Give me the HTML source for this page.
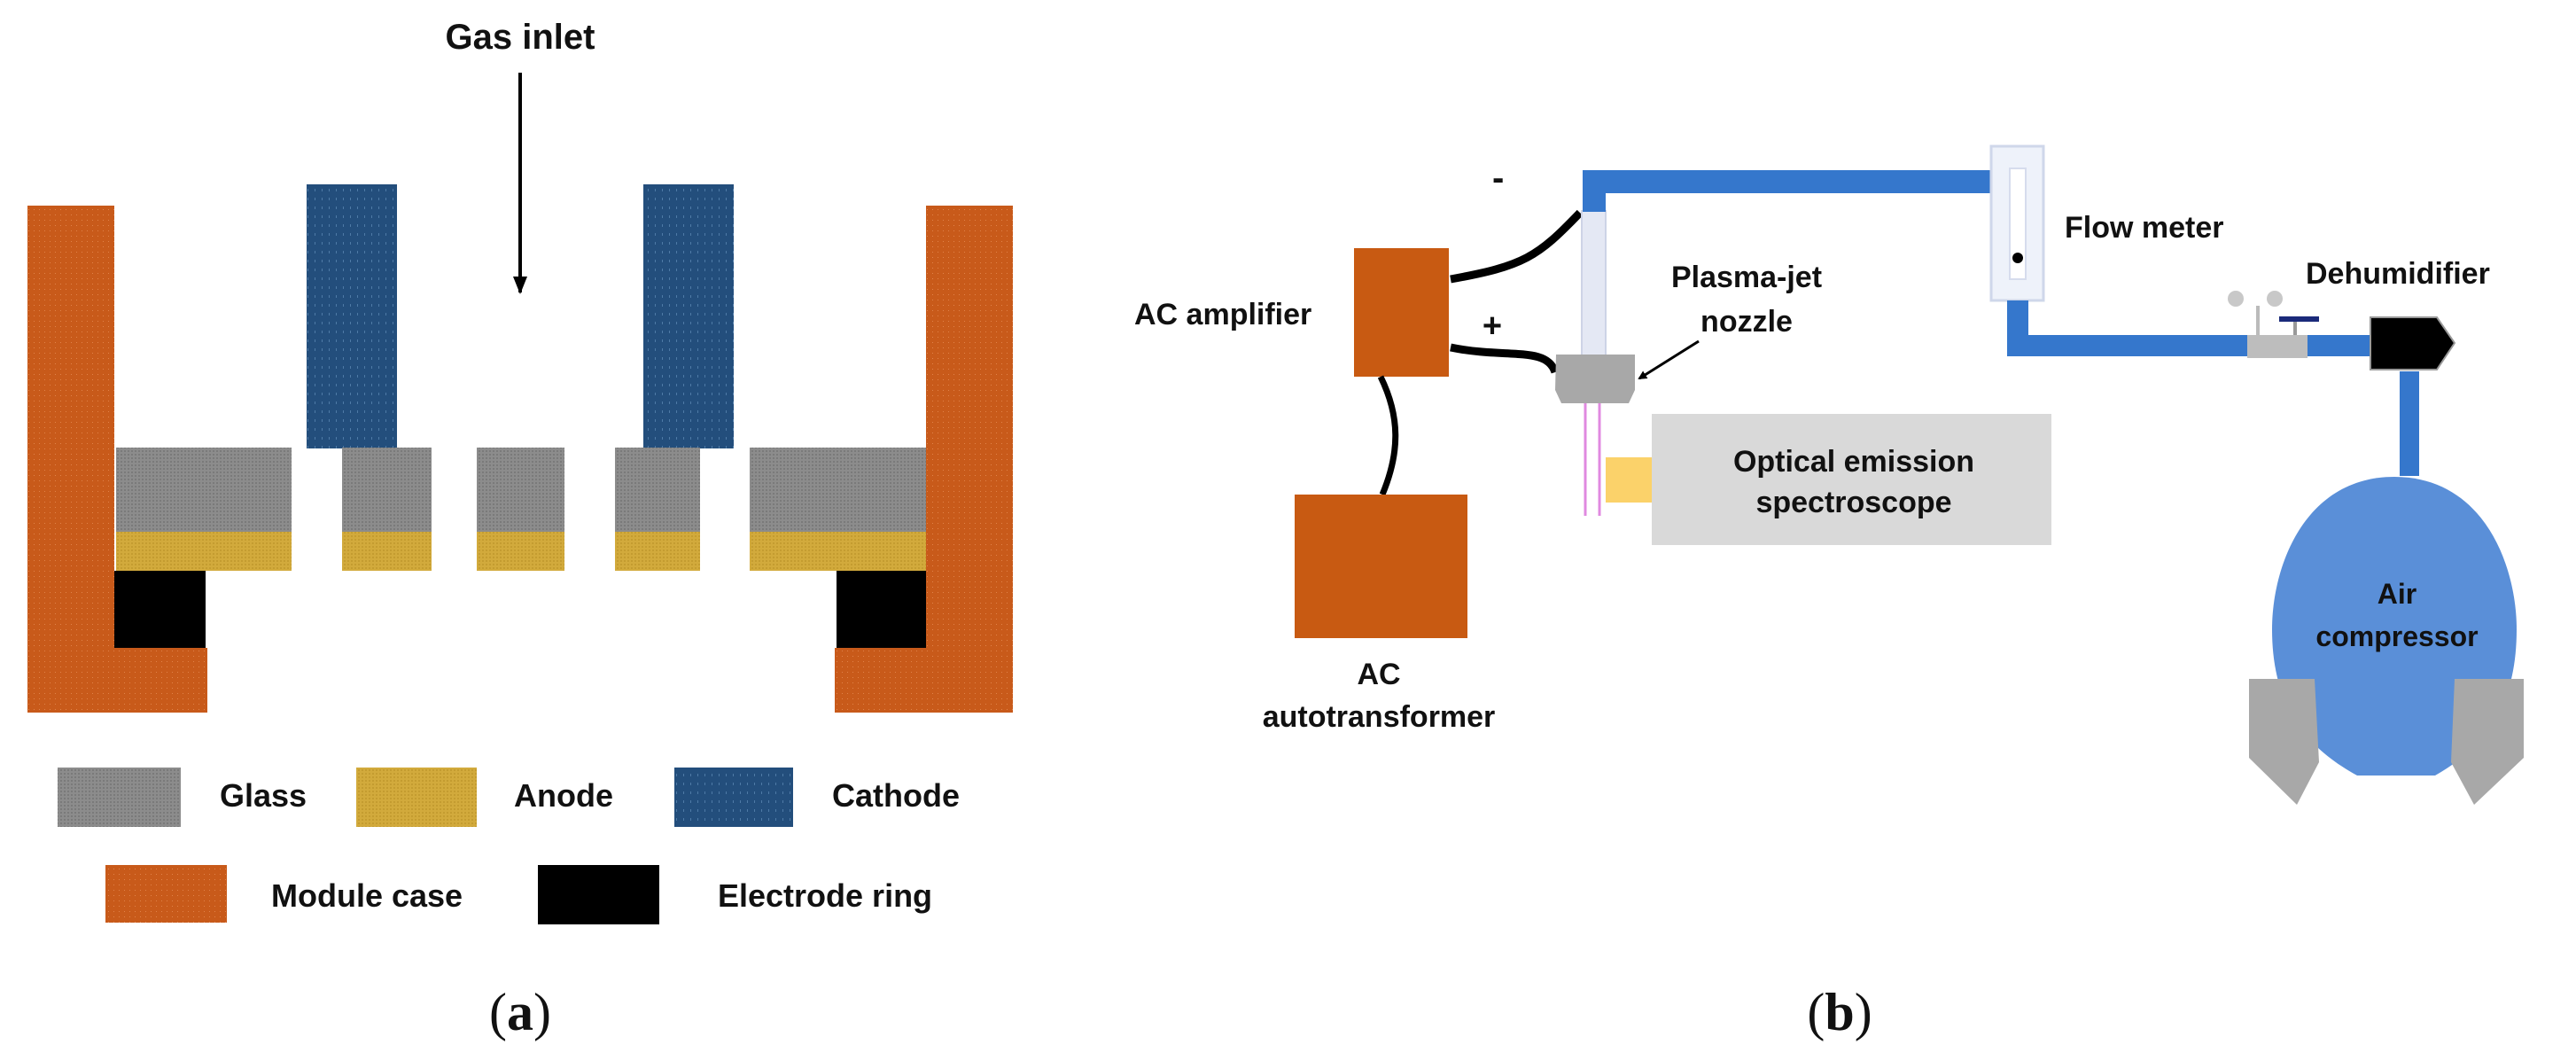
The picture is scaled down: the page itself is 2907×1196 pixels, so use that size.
<!DOCTYPE html>
<html><head><meta charset="utf-8"><style>
html,body{margin:0;padding:0;background:#fff;}
svg{display:block;}
text{font-family:"Liberation Sans",sans-serif;font-weight:bold;fill:#111;}
</style></head><body>
<svg width="2907" height="1196" viewBox="0 0 2907 1196" xmlns="http://www.w3.org/2000/svg">
<defs>
<pattern id="pg" width="4" height="4" patternUnits="userSpaceOnUse"><rect width="4" height="4" fill="#8c8c8c"/><rect width="2" height="2" fill="#7a7a7a"/></pattern>
<pattern id="pa" width="4" height="4" patternUnits="userSpaceOnUse"><rect width="4" height="4" fill="#d2aa3c"/><rect width="2" height="2" fill="#c49c30"/></pattern>
<pattern id="pc" width="8" height="10" patternUnits="userSpaceOnUse"><rect width="8" height="10" fill="#234e7c"/><rect x="3" y="3" width="1" height="3" fill="#4e7aa6"/></pattern>
<pattern id="po" width="6" height="6" patternUnits="userSpaceOnUse"><rect width="6" height="6" fill="#c85a1a"/><rect x="2" y="2" width="1" height="1" fill="#e0834a"/></pattern>
<marker id="ah" markerWidth="10" markerHeight="10" refX="8" refY="5" orient="auto" markerUnits="userSpaceOnUse"><path d="M0,0 L10,5 L0,10 z" fill="#000"/></marker>
<marker id="ah2" markerWidth="20" markerHeight="20" refX="18" refY="10" orient="auto" markerUnits="userSpaceOnUse"><path d="M0,2 L20,10 L0,18 z" fill="#000"/></marker>
</defs>

<!-- (a) -->
<text x="587" y="55" font-size="40" text-anchor="middle">Gas inlet</text>
<line x1="587" y1="82" x2="587" y2="330" stroke="#000" stroke-width="4" marker-end="url(#ah2)"/>

<rect x="31" y="232" width="98" height="572" fill="url(#po)"/>
<rect x="31" y="731" width="203" height="73" fill="url(#po)"/>
<rect x="1045" y="232" width="98" height="572" fill="url(#po)"/>
<rect x="942" y="731" width="201" height="73" fill="url(#po)"/>

<rect x="346" y="208" width="102" height="298" fill="url(#pc)"/>
<rect x="726" y="208" width="102" height="298" fill="url(#pc)"/>

<g fill="url(#pg)">
<rect x="131" y="505" width="198" height="95"/>
<rect x="386" y="505" width="101" height="95"/>
<rect x="538" y="505" width="99" height="95"/>
<rect x="694" y="505" width="96" height="95"/>
<rect x="846" y="505" width="199" height="95"/>
</g>
<g fill="url(#pa)">
<rect x="131" y="600" width="198" height="44"/>
<rect x="386" y="600" width="101" height="44"/>
<rect x="538" y="600" width="99" height="44"/>
<rect x="694" y="600" width="96" height="44"/>
<rect x="846" y="600" width="199" height="44"/>
</g>
<rect x="129" y="644" width="103" height="87" fill="#000"/>
<rect x="944" y="644" width="101" height="87" fill="#000"/>

<rect x="65" y="866" width="139" height="67" fill="url(#pg)"/>
<text x="248" y="910" font-size="36">Glass</text>
<rect x="402" y="866" width="136" height="67" fill="url(#pa)"/>
<text x="580" y="910" font-size="36">Anode</text>
<rect x="761" y="866" width="134" height="67" fill="url(#pc)"/>
<text x="939" y="910" font-size="36">Cathode</text>
<rect x="119" y="976" width="137" height="65" fill="url(#po)"/>
<text x="306" y="1023" font-size="36">Module case</text>
<rect x="607" y="976" width="137" height="67" fill="#000"/>
<text x="810" y="1023" font-size="36">Electrode ring</text>

<text x="587" y="1162" font-size="60" text-anchor="middle" style="font-family:'Liberation Serif',serif;font-weight:normal">(<tspan font-weight="bold">a</tspan>)</text>

<!-- (b) -->
<text x="1280" y="366" font-size="34">AC amplifier</text>
<rect x="1528" y="280" width="107" height="145" fill="#c85a12"/>
<path d="M1637,315 C1720,300 1735,290 1783,240" stroke="#000" stroke-width="9" fill="none"/>
<path d="M1637,392 C1700,405 1745,390 1755,420" stroke="#000" stroke-width="9" fill="none"/>
<path d="M1558,425 C1580,470 1580,510 1560,558" stroke="#000" stroke-width="7" fill="none"/>
<text x="1684" y="214" font-size="40">-</text>
<text x="1684" y="380" font-size="38" text-anchor="middle">+</text>

<rect x="1461" y="558" width="195" height="162" fill="#c85a12"/>
<text x="1556" y="772" font-size="34" text-anchor="middle">AC</text>
<text x="1556" y="820" font-size="34" text-anchor="middle">autotransformer</text>

<!-- glass tube -->
<rect x="1785" y="238" width="27" height="165" fill="#e4e8f4" stroke="#cdd3e6" stroke-width="2"/>
<!-- pipes -->
<path d="M1799,239 L1799,205 L2250,205" stroke="#3577cc" stroke-width="26" fill="none"/>
<rect x="2247" y="165" width="59" height="174" fill="#eef2fa" stroke="#cfd7ea" stroke-width="3"/>
<rect x="2268" y="190" width="18" height="125" fill="#fff" stroke="#d6dced" stroke-width="2"/>
<circle cx="2277" cy="291" r="6" fill="#000"/>
<path d="M2277,339 L2277,390 L2675,390" stroke="#3577cc" stroke-width="24" fill="none"/>
<rect x="2536" y="378" width="68" height="26" fill="#bdbdbd"/>
<line x1="2548" y1="345" x2="2548" y2="378" stroke="#bbb" stroke-width="4"/>
<line x1="2590" y1="362" x2="2590" y2="378" stroke="#999" stroke-width="4"/>
<circle cx="2523" cy="337" r="9" fill="#c8c8c8"/>
<circle cx="2567" cy="337" r="9" fill="#c8c8c8"/>
<rect x="2572" y="357" width="45" height="6" fill="#1b2a7a"/>
<path d="M2675,358 L2750,358 L2770,387 L2750,417 L2675,417 z" fill="#000" stroke="#999" stroke-width="2"/>
<rect x="2708" y="419" width="22" height="118" fill="#3577cc"/>
<text x="2330" y="268" font-size="34">Flow meter</text>
<text x="2602" y="320" font-size="34">Dehumidifier</text>

<!-- nozzle -->
<path d="M1756,400 L1845,400 L1845,440 L1838,455 L1762,455 L1755,440 z" fill="#a8a8a8"/>
<line x1="1789" y1="455" x2="1789" y2="582" stroke="#e08ae0" stroke-width="3"/>
<line x1="1805" y1="455" x2="1805" y2="582" stroke="#e08ae0" stroke-width="3"/>
<line x1="1917" y1="385" x2="1850" y2="427" stroke="#000" stroke-width="3" marker-end="url(#ah)"/>
<text x="1971" y="324" font-size="34" text-anchor="middle">Plasma-jet</text>
<text x="1971" y="374" font-size="34" text-anchor="middle">nozzle</text>

<rect x="1812" y="516" width="52" height="51" fill="#fbd26a"/>
<rect x="1864" y="467" width="451" height="148" fill="#d9d9d9"/>
<text x="2092" y="532" font-size="34" text-anchor="middle">Optical emission</text>
<text x="2092" y="578" font-size="34" text-anchor="middle">spectroscope</text>

<!-- compressor -->
<path d="M2702,538 C2600,538 2564,640 2564,710 C2564,790 2596,840 2660,875 L2748,875 C2810,840 2840,790 2840,710 C2840,640 2804,538 2702,538 z" fill="#5a8fd8"/>
<path d="M2538,766 L2612,766 L2617,860 L2592,908 L2538,855 z" fill="#a8a8a8"/>
<path d="M2848,766 L2770,766 L2766,860 L2792,908 L2848,855 z" fill="#a8a8a8"/>
<text x="2705" y="681" font-size="32" text-anchor="middle">Air</text>
<text x="2705" y="729" font-size="32" text-anchor="middle">compressor</text>

<text x="2076" y="1162" font-size="60" text-anchor="middle" style="font-family:'Liberation Serif',serif;font-weight:normal">(<tspan font-weight="bold">b</tspan>)</text>
</svg>
</body></html>
